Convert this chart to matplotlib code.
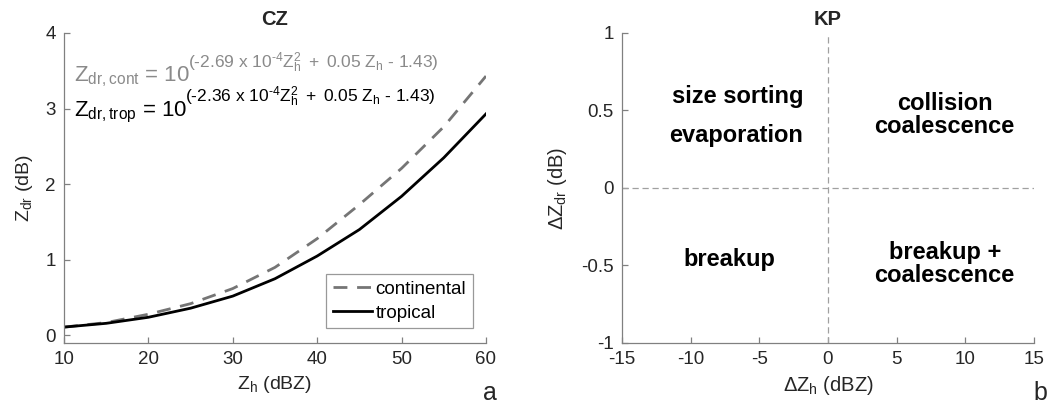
import matplotlib.pyplot as plt
from matplotlib.transforms import offset_copy

plt.rcParams['font.family'] = ['Liberation Sans', 'DejaVu Sans']
plt.rcParams['mathtext.fontset'] = 'custom'
plt.rcParams['mathtext.rm'] = 'Liberation Sans'
plt.rcParams['mathtext.it'] = 'Liberation Sans:italic'
plt.rcParams['mathtext.bf'] = 'Liberation Sans:bold'

# (panel a)
zh = [10, 15, 20, 25, 30, 35, 40, 45, 50, 55, 60]
zdr_cont = [0.11, 0.17, 0.28, 0.42, 0.62, 0.90, 1.28, 1.73, 2.21, 2.76, 3.43]
zdr_trop = [0.11, 0.16, 0.24, 0.36, 0.52, 0.75, 1.05, 1.40, 1.84, 2.35, 2.93]

# panel b - etykiety kwadrantów
quad_labels = ['size sorting', 'evaporation', 'collision\ncoalescence',
               'breakup', 'breakup +\ncoalescence']
quad_x = [-6.6, -6.7, 8.5, -7.2, 8.5]
quad_y = [0.59, 0.34, 0.47, -0.46, -0.49]

# wzory: podstawa i wykładnik osobno (wykładnik większy niż w mathtext)
hy = r'\text{-}'
eq_base = [r'$\mathregular{Z_{dr,cont}}$ = 10', r'$\mathregular{Z_{dr,trop}}$ = 10']
eq_exp = [r'$\mathregular{(' + hy + r'2.69\ x\ 10^{' + hy + r'4}Z_h^2\ +\ 0.05\ Z_h\ ' + hy + r'\ 1.43)}$',
          r'$\mathregular{(' + hy + r'2.36\ x\ 10^{' + hy + r'4}Z_h^2\ +\ 0.05\ Z_h\ ' + hy + r'\ 1.43)}$']
eq_y = [3.36, 2.90]
eq_col = ['#8a8a8a', 'black']

axis_col = '#808080'
txt_col = '#262626'


def style_axes(ax):
    for s in ['top', 'right']:
        ax.spines[s].set_visible(False)
    for s in ['left', 'bottom']:
        ax.spines[s].set_color(axis_col)
        ax.spines[s].set_linewidth(0.9)
    ax.tick_params(direction='in', length=4, width=0.9, color=axis_col,
                   labelcolor=txt_col, labelsize=13.5, pad=6)


fig = plt.figure(figsize=(10.54, 4.09), dpi=100)
ax1 = fig.add_axes([0.0607, 0.1614, 0.4004, 0.758])
ax2 = fig.add_axes([0.5901, 0.1614, 0.3909, 0.758])

# --- panel a ---
ax1.plot(zh, zdr_cont, color='#757575', linestyle=(0, (5, 3.5)), lw=2, label='continental')
ax1.plot(zh, zdr_trop, color='black', lw=2, label='tropical')
ax1.set_xlim(10, 60)
ax1.set_ylim(-0.1, 4)
ax1.set_xticks([10, 20, 30, 40, 50, 60])
ax1.set_yticks([0, 1, 2, 3, 4])
style_axes(ax1)
ax1.set_title('CZ', fontsize=14.5, fontweight='bold', color=txt_col, pad=6)
ax1.set_xlabel(r'$\mathregular{Z_h}$ (dBZ)', fontsize=14, color=txt_col, labelpad=4)
ax1.set_ylabel(r'$\mathregular{Z_{dr}}$ (dB)', fontsize=14, color=txt_col, labelpad=7)

base_texts = []
for b, y, c in zip(eq_base, eq_y, eq_col):
    base_texts.append(ax1.text(11.18, y, b, fontsize=16, color=c, va='baseline', ha='left'))
fig.canvas.draw()
r = fig.canvas.get_renderer()
for t, e, y, c in zip(base_texts, eq_exp, eq_y, eq_col):
    x1 = t.get_window_extent(r).x1
    x_data = ax1.transData.inverted().transform((x1, 0))[0]
    tr = offset_copy(ax1.transData, fig=fig, x=-1.5, y=10, units='points')
    ax1.text(x_data, y, e, fontsize=12.5, color=c, va='baseline', ha='left', transform=tr)

leg = ax1.legend(loc='lower right', bbox_to_anchor=(0.969, 0.048), fontsize=13.5,
                 frameon=True, fancybox=False, handlelength=2.1, handletextpad=0.2,
                 borderpad=0.35, labelspacing=0.35, borderaxespad=0)
leg.get_frame().set_edgecolor(axis_col)
leg.get_frame().set_linewidth(0.9)
ax1.text(1.009, -0.16, 'a', transform=ax1.transAxes, fontsize=18, color=txt_col,
         ha='center', va='center')

# --- panel b ---
ax2.axhline(0, color='#a0a0a0', linestyle=(0, (5, 3)), lw=0.9)
ax2.axvline(0, color='#a0a0a0', linestyle=(0, (5, 3)), lw=0.9)
ax2.set_xlim(-15, 15)
ax2.set_ylim(-1, 1)
ax2.set_xticks([-15, -10, -5, 0, 5, 10, 15])
ax2.set_yticks([-1, -0.5, 0, 0.5, 1])
ax2.set_yticklabels(['-1', '-0.5', '0', '0.5', '1'])
ax2.set_xticklabels(['-15', '-10', '-5', '0', '5', '10', '15'])
style_axes(ax2)
ax2.set_title('KP', fontsize=14.5, fontweight='bold', color=txt_col, pad=6)
ax2.set_xlabel(r'$\mathregular{\Delta Z_h}$ (dBZ)', fontsize=14.5, color=txt_col, labelpad=4)
ax2.set_ylabel(r'$\mathregular{\Delta Z_{dr}}$ (dB)', fontsize=14.5, color=txt_col, labelpad=9)
for lab, x, y in zip(quad_labels, quad_x, quad_y):
    ax2.text(x, y, lab, fontsize=17, fontweight='bold', color='black',
             ha='center', va='center', linespacing=1.0)
ax2.text(1.015, -0.16, 'b', transform=ax2.transAxes, fontsize=18, color=txt_col,
         ha='center', va='center')

fig.savefig('out.png', dpi=100)
